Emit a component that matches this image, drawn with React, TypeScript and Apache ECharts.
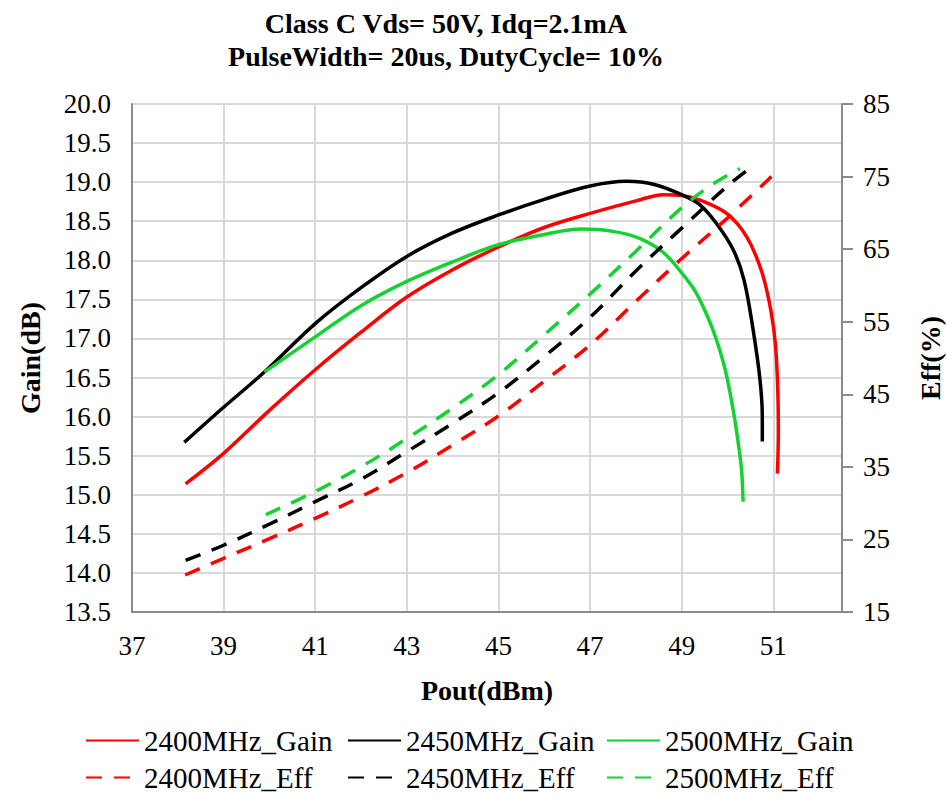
import React, { useEffect, useRef } from "react";
import * as echarts from "echarts";

// ---------- data ----------
const gain2400X = [38.17, 39, 40, 41, 42, 43, 44, 45, 46, 47, 48, 48.6, 49.0, 49.4, 49.98, 50.42, 50.75, 50.95, 51.05, 51.1, 51.11, 51.09];
const gain2400Y = [15.14, 15.53, 16.08, 16.6, 17.08, 17.53, 17.88, 18.17, 18.42, 18.6, 18.76, 18.84, 18.83, 18.77, 18.6, 18.3, 17.85, 17.35, 16.9, 16.3, 15.8, 15.27];

const gain2450X = [38.14, 39, 39.89, 41, 42, 43, 44, 45, 46, 47, 47.8, 48.4, 49.0, 49.4, 49.76, 50.13, 50.36, 50.56, 50.71, 50.76, 50.76];
const gain2450Y = [15.67, 16.12, 16.57, 17.19, 17.65, 18.05, 18.35, 18.58, 18.78, 18.95, 19.01, 18.97, 18.84, 18.71, 18.47, 18.13, 17.75, 17.11, 16.47, 16.0, 15.68];

const gain2500X = [39.89, 41, 42, 43, 44, 45, 46, 46.8, 47.5, 48.08, 48.6, 49.0, 49.3, 49.55, 49.75, 49.95, 50.12, 50.25, 50.31, 50.34];
const gain2500Y = [16.57, 17.02, 17.42, 17.73, 17.98, 18.2, 18.33, 18.4, 18.37, 18.28, 18.1, 17.84, 17.6, 17.3, 17.0, 16.6, 16.1, 15.6, 15.3, 14.91];

const eff2400X = [38.16, 39, 40, 41, 42, 43, 44, 45, 46, 47, 48, 49, 50, 50.96];
const eff2400Y = [20.1, 22.4, 25.1, 27.9, 30.9, 34.2, 38.0, 42.0, 46.8, 51.8, 57.8, 63.7, 69.3, 75.0];

const eff2450X = [38.17, 39, 40, 41, 42, 43, 44, 45, 46, 47, 48, 49, 50, 50.56];
const eff2450Y = [22.1, 24.2, 27.1, 30.2, 33.3, 37.1, 41.0, 45.2, 50.2, 55.6, 62.0, 67.9, 73.7, 76.5];

const eff2500X = [39.92, 41, 42, 43, 44, 45, 46, 47, 48, 49, 49.69, 50.27];
const eff2500Y = [28.4, 31.6, 35.0, 38.9, 43.1, 47.7, 53.2, 58.8, 64.7, 70.7, 74.0, 76.1];

const gainNames = ["2400MHz_Gain", "2450MHz_Gain", "2500MHz_Gain"];
const effNames = ["2400MHz_Eff", "2450MHz_Eff", "2500MHz_Eff"];
const titleLines = ["Class C Vds= 50V, Idq=2.1mA", "PulseWidth= 20us, DutyCycle= 10%"];

const xMin = 37, xMax = 52.5, xStep = 2;
const gainMin = 13.5, gainMax = 20, gainStep = 0.5;
const effMin = 15, effMax = 85, effStep = 10;

// ---------- styling ----------
const FONT = "Liberation Serif";
const RED = "#ff0000";
const BLACK = "#000000";
const GREEN = "#14d232";
const AXIS_GRAY = "#8a8a8a";
const GRID_GRAY = "#d9d9d9";

const legendCols = [85, 347, 606];
const legendRows = [726, 763];

const zip = (xs: number[], ys: number[]) => xs.map((x, i) => [x, ys[i]]);

export default function App() {
  const ref = useRef<HTMLDivElement>(null);

  useEffect(() => {
    if (!ref.current) return;
    const chart = echarts.init(ref.current, undefined, { renderer: "svg" });

    const solid = (name: string, color: string, xs: number[], ys: number[]) => ({
      name,
      type: "line",
      yAxisIndex: 0,
      data: zip(xs, ys),
      smooth: 0.35,
      symbol: "none",
      lineStyle: { color, width: 3.5, type: "solid" },
      itemStyle: { color },
    });
    const dashed = (name: string, color: string, xs: number[], ys: number[]) => ({
      name,
      type: "line",
      yAxisIndex: 1,
      data: zip(xs, ys),
      smooth: 0.35,
      symbol: "none",
      lineStyle: { color, width: 3.5, type: [16, 12] },
      itemStyle: { color },
    });

    const legends: any[] = [];
    [gainNames, effNames].forEach((names, r) => {
      names.forEach((n, c) => {
        legends.push({
          left: legendCols[c],
          top: legendRows[r],
          itemWidth: 53,
          itemHeight: 20,
          itemGap: 0,
          padding: 0,
          selectedMode: false,
          itemStyle: { color: "transparent", borderColor: "transparent", borderWidth: 0, opacity: 0 },
          textStyle: { fontFamily: FONT, fontWeight: "normal", fontSize: 29, color: "#000" },
          data: [n],
        });
      });
    });

    const labelStyle = { fontFamily: FONT, fontWeight: "normal", fontSize: 27, color: "#000" };
    const nameStyle = { fontFamily: FONT, fontSize: 28, fontWeight: "bold", color: "#000" };

    chart.setOption({
      animation: false,
      backgroundColor: "#ffffff",
      graphic: [
        {
          type: "text",
          x: 446,
          y: 7,
          style: {
            text: titleLines.join("\n"),
            fontFamily: FONT,
            fontSize: 28,
            fontWeight: "bold",
            lineHeight: 33,
            textAlign: "center",
            fill: "#000",
          },
        },
      ],
      grid: { left: 132, right: 105, top: 104, bottom: 184, containLabel: false, outerBoundsMode: "none" },
      legend: legends,
      xAxis: {
        type: "value",
        min: xMin,
        max: xMax,
        interval: xStep,
        name: "Pout(dBm)",
        nameLocation: "middle",
        nameGap: 64,
        nameTextStyle: nameStyle,
        axisLine: { show: true, lineStyle: { color: AXIS_GRAY, width: 2 } },
        axisTick: { show: false },
        axisLabel: { ...labelStyle, margin: 20, showMaxLabel: false },
        splitLine: { show: true, lineStyle: { color: GRID_GRAY, width: 2 } },
      },
      yAxis: [
        {
          type: "value",
          min: gainMin,
          max: gainMax,
          interval: gainStep,
          name: "Gain(dB)",
          nameLocation: "middle",
          nameRotate: 90,
          nameGap: 88,
          nameTextStyle: nameStyle,
          axisLine: { show: true, lineStyle: { color: AXIS_GRAY, width: 2 } },
          axisTick: { show: false },
          axisLabel: { ...labelStyle, margin: 21, formatter: (v: number) => v.toFixed(1) },
          splitLine: { show: true, lineStyle: { color: GRID_GRAY, width: 2 } },
        },
        {
          type: "value",
          position: "right",
          min: effMin,
          max: effMax,
          interval: effStep,
          name: "Eff(%)",
          nameLocation: "middle",
          nameRotate: 90,
          nameGap: 74,
          nameTextStyle: nameStyle,
          axisLine: { show: true, lineStyle: { color: AXIS_GRAY, width: 2 } },
          axisTick: { show: true, inside: false, length: 11, lineStyle: { color: AXIS_GRAY, width: 2 } },
          axisLabel: { ...labelStyle, margin: 21 },
          splitLine: { show: false },
        },
      ],
      series: [
        solid(gainNames[0], RED, gain2400X, gain2400Y),
        solid(gainNames[1], BLACK, gain2450X, gain2450Y),
        solid(gainNames[2], GREEN, gain2500X, gain2500Y),
        dashed(effNames[0], RED, eff2400X, eff2400Y),
        dashed(effNames[1], BLACK, eff2450X, eff2450Y),
        dashed(effNames[2], GREEN, eff2500X, eff2500Y),
      ],
    });

    return () => chart.dispose();
  }, []);

  return (
    <div
      ref={ref}
      style={{ position: "fixed", left: 0, top: 0, width: 947, height: 796, background: "#fff" }}
    />
  );
}
